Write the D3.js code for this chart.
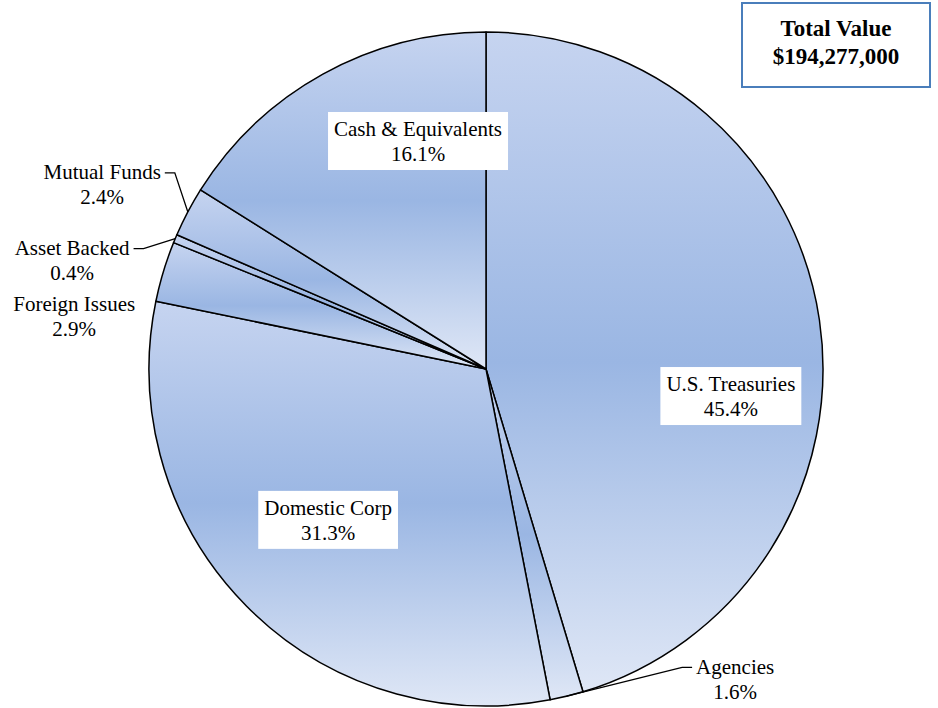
<!DOCTYPE html>
<html>
<head>
<meta charset="utf-8">
<script src="https://cdn.jsdelivr.net/npm/d3@7"></script>
<style>
  body { margin: 0; background: #fff; }
</style>
</head>
<body>
<div id="chart"></div>
<script>
// data, clockwise from 12 o'clock
const categories = ['U.S. Treasuries', 'Agencies', 'Domestic Corp', 'Foreign Issues', 'Asset Backed', 'Mutual Funds', 'Cash & Equivalents'];
const shares = [45.4, 1.6, 31.3, 2.9, 0.4, 2.4, 16.1];
const totalLabel = ['Total Value', '$194,277,000'];

// label placement: angle (deg, clockwise from top), distance as fraction of radius
const labelAngle = [96.3, 141.2, 226.3, 277.3, 284.75, 295.7, 343.4];
const labelDist = [0.731, 1.18, 0.648, 1.232, 1.27, 1.264, 0.706];
const labelBoxed = [true, false, true, false, false, false, true];
const labelLeader = [false, true, false, false, true, true, false];

const width = 938, height = 708;
const cx = 486, cy = 369, radius = 337;
const fontSize = 21, lineH = 25;
const serif = '"Liberation Serif", "Times New Roman", Times, "DejaVu Serif", serif';

const svg = d3.select('#chart').append('svg')
  .attr('width', width)
  .attr('height', height)
  .style('display', 'block');

const defs = svg.append('defs');

const pie = d3.pie().sort(null).value(d => d);
const arcs = pie(shares);
const arc = d3.arc().innerRadius(0).outerRadius(radius);

const g = svg.append('g').attr('transform', `translate(${cx},${cy})`);

// one vertical gradient per slice: light top, darker middle, light bottom
arcs.forEach((a, i) => {
  const grad = defs.append('linearGradient')
    .attr('id', 'grad' + i)
    .attr('x1', 0).attr('y1', 0).attr('x2', 0).attr('y2', 1);
  grad.append('stop').attr('offset', '0%').attr('stop-color', '#c6d4f0');
  grad.append('stop').attr('offset', '50%').attr('stop-color', '#9ab6e3');
  grad.append('stop').attr('offset', '100%').attr('stop-color', '#dfe7f6');
});

g.selectAll('path.slice')
  .data(arcs)
  .enter().append('path')
  .attr('class', 'slice')
  .attr('d', arc)
  .attr('fill', (d, i) => `url(#grad${i})`)
  .attr('stroke', '#000')
  .attr('stroke-width', 1.5)
  .attr('stroke-linejoin', 'round');

// labels
const toXY = (deg, dist) => {
  const t = deg * Math.PI / 180;
  return [Math.sin(t) * dist * radius, -Math.cos(t) * dist * radius];
};

arcs.forEach((a, i) => {
  const [lx, ly] = toXY(labelAngle[i], labelDist[i]);
  const lg = g.append('g').attr('transform', `translate(${lx},${ly})`);
  const lines = [categories[i], shares[i].toFixed(1) + '%'];

  const rect = lg.append('rect').attr('fill', '#fff');

  const text = lg.append('text')
    .attr('text-anchor', 'middle')
    .attr('font-family', serif)
    .attr('font-size', fontSize)
    .attr('fill', '#000');
  lines.forEach((s, k) => {
    text.append('tspan')
      .attr('x', 0)
      .attr('y', (k - 0.5) * lineH)
      .attr('dy', '0.35em')
      .text(s);
  });

  const w0 = text.select('tspan').node().getComputedTextLength();
  const bb = text.node().getBBox();
  if (labelBoxed[i]) {
    rect.attr('x', bb.x - 6).attr('y', -lineH - 4)
      .attr('width', bb.width + 12).attr('height', lineH * 2 + 8);
  } else {
    rect.remove();
  }

  if (labelLeader[i]) {
    const mid = (a.startAngle + a.endAngle) / 2;
    const px = Math.sin(mid) * radius, py = -Math.cos(mid) * radius;
    const side = lx < 0 ? 1 : -1; // leader leaves from the side facing the pie
    const ex = lx + side * (w0 / 2 + 4);
    const ey = ly - lineH / 2 + 1;
    const kx = ex + side * 10;
    g.append('path')
      .attr('d', `M${ex},${ey}L${kx},${ey}L${px},${py}`)
      .attr('fill', 'none')
      .attr('stroke', '#000')
      .attr('stroke-width', 1.3);
  }
});

// total value box
const box = svg.append('g').attr('transform', 'translate(742,3)');
box.append('rect')
  .attr('x', 0).attr('y', 0)
  .attr('width', 188).attr('height', 84)
  .attr('fill', '#fff')
  .attr('stroke', '#4a7ebb')
  .attr('stroke-width', 2);
box.append('text')
  .attr('text-anchor', 'middle')
  .attr('font-family', serif)
  .attr('font-size', 23)
  .attr('font-weight', 'bold')
  .selectAll('tspan')
  .data(totalLabel)
  .enter().append('tspan')
  .attr('x', 94)
  .attr('y', (d, k) => 25 + k * 28)
  .attr('dy', '0.35em')
  .text(d => d);
</script>
</body>
</html>
